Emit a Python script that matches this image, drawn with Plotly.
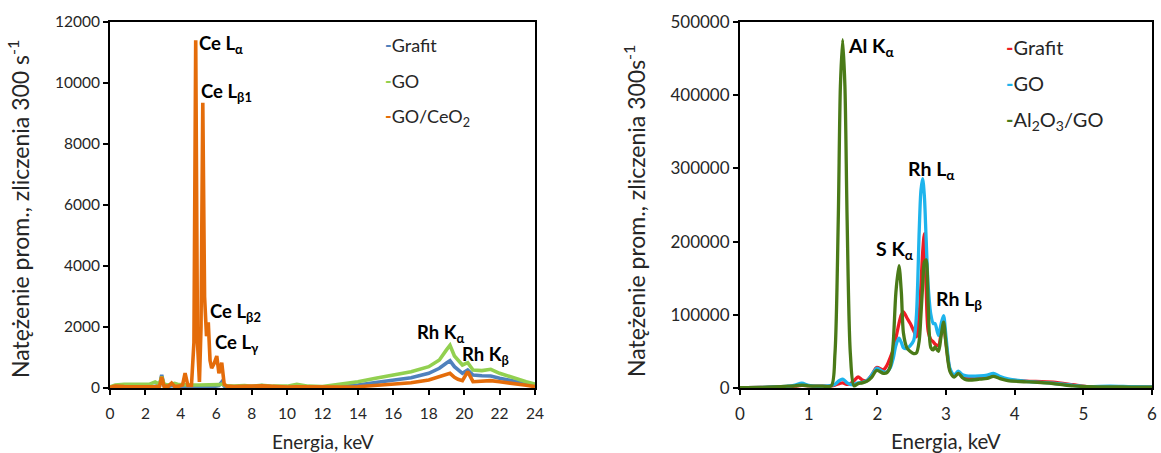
import plotly.graph_objects as go

# ---------------- Left chart data (energy in keV, counts per 300 s) ----------------
energy_left = [0, 0.3, 0.8, 1.5, 2.2, 2.55, 2.8, 2.92, 3.05, 3.3, 3.48, 3.65, 3.9, 4.1, 4.24, 4.4,
               4.6, 4.74, 4.84, 4.94, 5.05, 5.14, 5.24, 5.34, 5.45, 5.55, 5.65, 5.74, 5.88, 6.03,
               6.15, 6.31, 6.45, 6.6, 7.0, 7.6, 8.0, 8.57, 9.2, 10.0, 10.55, 11.2, 12, 13, 14, 15,
               16, 17, 18, 18.6, 19.0, 19.2, 19.45, 19.65, 19.9, 20.2, 20.5, 21.0, 21.5, 22.0,
               22.6, 23.0, 23.5, 24]

grafit_left = [10, 40, 40, 30, 30, 60, 80, 430, 80, 50, 80, 60, 50, 40, 60, 40,
               40, 40, 50, 40, 40, 40, 50, 40, 40, 50, 40, 40, 50, 60,
               80, 200, 60, 40, 30, 30, 30, 80, 30, 30, 30, 30, 20, 50, 98, 180,
               262, 338, 482, 646, 820, 895, 700, 613, 482, 590, 427, 400, 394, 318,
               260, 207, 140, 75]

go_left = [40, 100, 120, 110, 120, 200, 120, 380, 120, 100, 120, 150, 110, 100, 110, 100,
           100, 100, 110, 100, 100, 100, 110, 100, 100, 110, 100, 110, 110, 120,
           110, 130, 90, 70, 60, 80, 60, 90, 60, 60, 120, 60, 45, 120, 207, 320,
           427, 535, 700, 920, 1250, 1400, 1050, 900, 754, 830, 590, 570, 613, 482,
           370, 285, 207, 131]

go_ceo2_left = [20, 60, 50, 40, 30, 40, 60, 360, 60, 60, 160, 50, 60, 100, 490, 80,
                80, 1500, 11400, 1500, 200, 2000, 9350, 3000, 1700, 2150, 900, 650, 800, 1050,
                480, 830, 120, 60, 50, 40, 60, 70, 40, 30, 40, 30, 20, 30, 43, 90,
                131, 174, 262, 370, 440, 482, 350, 285, 240, 535, 207, 230, 240, 207,
                170, 131, 90, 43]

# ---------------- Right chart data ----------------
energy_right = [0, 0.3, 0.5, 0.7, 0.8, 0.9, 1.0, 1.1, 1.2, 1.33, 1.383, 1.431, 1.462, 1.495,
                1.528, 1.56, 1.607, 1.66, 1.72, 1.78, 1.845, 1.92, 1.99, 2.09, 2.14, 2.19, 2.23,
                2.27, 2.315, 2.35, 2.38, 2.43, 2.48, 2.53, 2.57, 2.61, 2.635, 2.66, 2.685, 2.71,
                2.74, 2.78, 2.815, 2.84, 2.89, 2.93, 2.965, 3.0, 3.06, 3.12, 3.18, 3.24, 3.30,
                3.49, 3.6, 3.69, 3.78, 3.9, 4.17, 4.56, 4.85, 5.05, 5.39, 5.7, 6.0]

grafit_right = [500, 800, 1500, 2000, 2500, 3500, 3000, 2500, 2500, 3000, 4000, 5500, 6500, 7000,
                6000, 5000, 6000, 10000, 15000, 11000, 10000, 18000, 28000, 25000, 31000, 42000, 52000,
                68000, 88000, 100000, 104000, 96000, 88000, 78000, 70000, 100000, 140000, 185000, 211000, 140000,
                78000, 66000, 63000, 60000, 58000, 75000, 86000, 62000, 24000, 16000, 21000, 15000, 13000,
                14000, 15000, 17500, 14000, 11000, 9500, 8000, 4500, 2000, 1500, 1300, 1200]

go_right = [500, 800, 1500, 2500, 4000, 6500, 3500, 2500, 2500, 3500, 5000, 9000, 11000, 12000,
            10000, 7000, 5000, 5000, 7000, 7500, 10000, 18000, 27000, 22000, 22000, 28000, 40000,
            58000, 68000, 62000, 55000, 54000, 58000, 65000, 100000, 215000, 270000, 286000, 262000, 205000,
            140000, 100000, 88000, 88000, 72000, 88000, 99000, 70000, 26000, 18000, 23000, 18000, 16500,
            16500, 17500, 20000, 16000, 12500, 9000, 6500, 3500, 2000, 2500, 1800, 1500]

al2o3_go_right = [500, 800, 1500, 2500, 3000, 4000, 3000, 2500, 2500, 3000, 47000, 230000, 412000, 476000,
                  412000, 230000, 47000, 3000, 6000, 7000, 9000, 15000, 24000, 20000, 21000, 30000, 60000,
                  130000, 167000, 130000, 75000, 55000, 50000, 47000, 48000, 65000, 100000, 140000, 172000, 175000,
                  115000, 55000, 52000, 56000, 50000, 72000, 90000, 60000, 22000, 15000, 20000, 14000, 11000,
                  12000, 13000, 16000, 13000, 10000, 8500, 6000, 3000, 1800, 1500, 1300, 1200]

left_x_ticks = list(range(0, 25, 2))
left_y_ticks = list(range(0, 12001, 2000))
right_x_ticks = list(range(0, 7))
right_y_ticks = list(range(0, 500001, 100000))

left_names = ["Grafit", "GO", "GO/CeO<sub>2</sub>"]
right_names = ["Grafit", "GO", "Al<sub>2</sub>O<sub>3</sub>/GO"]

left_peaks = [("Ce L<sub>α</sub>", 4.92, 11250), ("Ce L<sub>β1</sub>", 5.03, 9700),
              ("Ce L<sub>β2</sub>", 5.54, 2490), ("Ce L<sub>γ</sub>", 5.82, 1475),
              ("Rh K<sub>α</sub>", 17.23, 1800), ("Rh K<sub>β</sub>", 19.77, 1080)]
right_peaks = [("Al K<sub>α</sub>", 1.544, 465800), ("Rh L<sub>α</sub>", 2.417, 297800),
               ("S K<sub>α</sub>", 1.951, 188500), ("Rh L<sub>β</sub>", 2.825, 120200)]

left_colors = ["#4F81BD", "#92D050", "#E46C0A"]
right_colors = ["#EE1C25", "#1EB4EC", "#4A7A18"]

FONT = "Lato"
TXT = "#262626"
W, H = 1161, 453

fig = go.Figure()

for name, vals, col in zip(left_names, [grafit_left, go_left, go_ceo2_left], left_colors):
    fig.add_trace(go.Scatter(x=energy_left, y=vals, mode="lines", name=name,
                             line=dict(color=col, width=3.6), showlegend=False,
                             xaxis="x", yaxis="y"))

for name, vals, col in zip(right_names, [grafit_right, go_right, al2o3_go_right], right_colors):
    fig.add_trace(go.Scatter(x=energy_right, y=vals, mode="lines", name=name,
                             line=dict(color=col, width=3.3, shape="spline", smoothing=0.8),
                             showlegend=False, xaxis="x2", yaxis="y2"))


def axis(size, **kw):
    d = dict(showline=True, linecolor="black", linewidth=2, mirror=True,
             ticks="outside", ticklen=5, tickwidth=2, tickcolor="black",
             showgrid=False, zeroline=False, automargin=False, tickformat="d",
             tickfont=dict(family=FONT, size=size, color=TXT))
    d.update(kw)
    return d


y_dom = [(H - 388) / H, (H - 22) / H]
fig.update_layout(
    width=W, height=H,
    margin=dict(l=0, r=0, t=0, b=0),
    paper_bgcolor="white", plot_bgcolor="white",
    font=dict(family=FONT, color=TXT),
    xaxis=axis(15.5, domain=[110 / W, 535 / W], range=[0, 24], tickvals=left_x_ticks,
               anchor="y", ticklabelstandoff=5),
    yaxis=axis(15.5, domain=y_dom, range=[0, 12000], tickvals=left_y_ticks, anchor="x"),
    xaxis2=axis(17, domain=[740 / W, 1152 / W], range=[0, 6], tickvals=right_x_ticks,
                anchor="y2", ticklabelstandoff=5),
    yaxis2=axis(17, domain=y_dom, range=[0, 500000], tickvals=right_y_ticks, anchor="x2"),
)

# axis titles (placed like the original)
axis_titles = [("Energia, keV", 323, 441, 0, 19),
               ("Natężenie prom., zliczenia 300 s<sup>-1</sup>", 18, 209, -90, 23),
               ("Energia, keV", 946, 441, 0, 20.5),
               ("Natężenie prom., zliczenia 300s<sup>-1</sup>", 635, 211, -90, 23)]
for text, px, py, ang, sz in axis_titles:
    fig.add_annotation(x=px / W, y=1 - py / H, xref="paper", yref="paper", text=text,
                       textangle=ang, showarrow=False, xanchor="center", yanchor="middle",
                       font=dict(family=FONT, size=sz, color=TXT))

for text, x, y in left_peaks:
    fig.add_annotation(x=x, y=y, xref="x", yref="y", text="<b>" + text + "</b>",
                       showarrow=False, xanchor="left", yanchor="middle",
                       font=dict(family=FONT, size=18.5, color="black"))
for text, x, y in right_peaks:
    fig.add_annotation(x=x, y=y, xref="x2", yref="y2", text="<b>" + text + "</b>",
                       showarrow=False, xanchor="left", yanchor="middle",
                       font=dict(family=FONT, size=19.5, color="black"))

# legend entries drawn as short coloured dash + label (as in the original)
for i, (name, col) in enumerate(zip(left_names, left_colors)):
    fig.add_annotation(x=383 / W, y=1 - (45 + 36 * i) / H, xref="paper", yref="paper",
                       text=f"<span style='color:{col}'><b>-</b></span>{name}",
                       showarrow=False, xanchor="left", yanchor="middle",
                       font=dict(family=FONT, size=18, color=TXT))
for i, (name, col) in enumerate(zip(right_names, right_colors)):
    fig.add_annotation(x=1004 / W, y=1 - (47 + 36.5 * i) / H, xref="paper", yref="paper",
                       text=f"<span style='color:{col}'><b>-</b></span>{name}",
                       showarrow=False, xanchor="left", yanchor="middle",
                       font=dict(family=FONT, size=20, color=TXT))

fig.write_html("out.html")
